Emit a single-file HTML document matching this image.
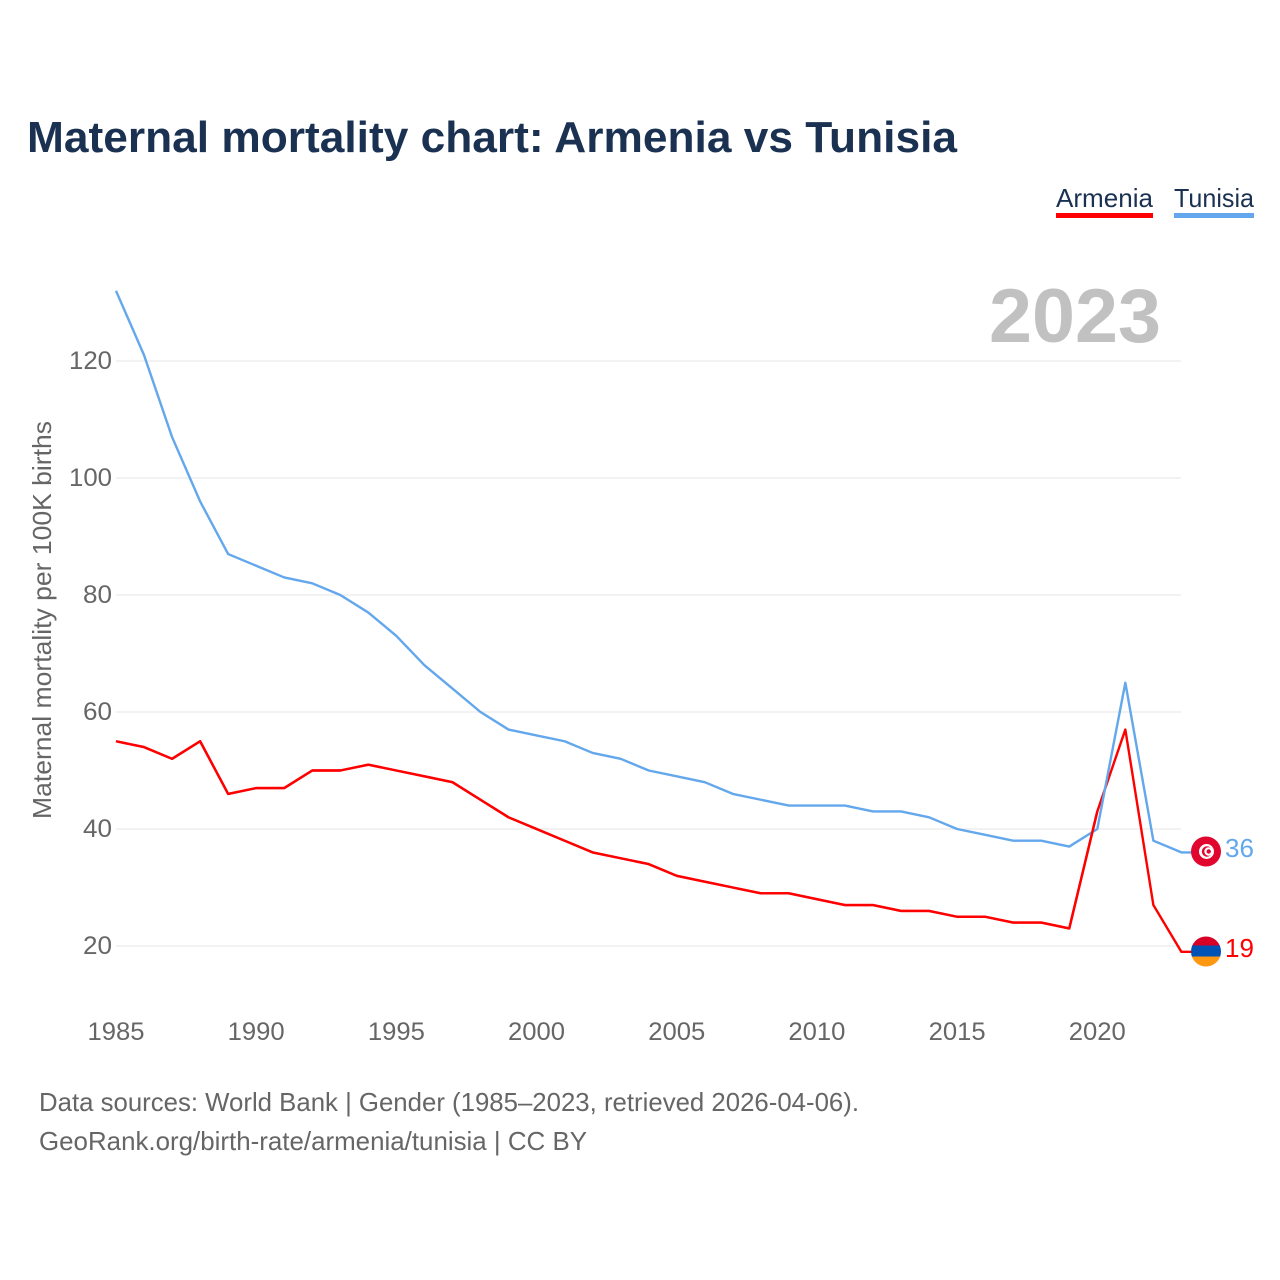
<!DOCTYPE html>
<html lang="en">
<head>
<meta charset="utf-8">
<title>Maternal mortality chart: Armenia vs Tunisia</title>
<style>
html,body{margin:0;padding:0;background:#fff;}
svg{display:block;}
text{font-family:"Liberation Sans",sans-serif;}
</style>
</head>
<body>
<svg id="chart" width="1280" height="1280" viewBox="0 0 1280 1280" xmlns="http://www.w3.org/2000/svg">
  <defs>
    <clipPath id="am-clip"><circle cx="1206" cy="951.5" r="15"></circle></clipPath>
  </defs>
  <text x="27" y="152" font-size="44" font-weight="700" fill="#1a3152" textLength="930" lengthAdjust="spacingAndGlyphs">Maternal mortality chart: Armenia vs Tunisia</text>

  <g>
    <text x="1056" y="207" font-size="26" fill="#1a3152" textLength="97" lengthAdjust="spacingAndGlyphs">Armenia</text>
    <rect x="1056" y="213" width="97" height="5" fill="#ff0000"></rect>
  </g>
  <g>
    <text x="1174" y="207" font-size="26" fill="#1a3152" textLength="80" lengthAdjust="spacingAndGlyphs">Tunisia</text>
    <rect x="1174" y="213" width="80" height="5" fill="#63a7ec"></rect>
  </g>

  <text x="1161" y="342" font-size="76" font-weight="700" fill="#c1c1c1" text-anchor="end" textLength="172" lengthAdjust="spacingAndGlyphs">2023</text>

  <g id="grid"></g>
  <g id="y-ticks"></g>
  <g id="x-ticks"></g>

  <text transform="translate(51,620) rotate(-90)" font-size="26" fill="#666666" text-anchor="middle" textLength="398" lengthAdjust="spacingAndGlyphs">Maternal mortality per 100K births</text>

  <path id="line-armenia" fill="none" stroke="#ff0000" stroke-width="2.4" stroke-linejoin="round"></path>
  <path id="line-tunisia" fill="none" stroke="#63a7ec" stroke-width="2.4" stroke-linejoin="round"></path>
  <path id="line-armenia-top" fill="none" stroke="#ff0000" stroke-width="2.4" stroke-linejoin="round"></path>

  <g id="flag-tunisia">
    <circle cx="1206" cy="851.5" r="15" fill="#e0062d"></circle>
    <circle cx="1206.5" cy="851.5" r="7.5" fill="#ffffff"></circle>
    <circle cx="1207" cy="851.5" r="5.2" fill="#e0062d"></circle>
    <circle cx="1208.5" cy="851.5" r="4.2" fill="#ffffff"></circle>
    <circle cx="1208.7" cy="851.5" r="2.2" fill="#e0062d"></circle>
  </g>
  <g id="flag-armenia" clip-path="url(#am-clip)">
    <rect x="1190" y="936" width="32" height="11" fill="#d80027"></rect>
    <rect x="1190" y="945.5" width="32" height="11.5" fill="#0052b4"></rect>
    <rect x="1190" y="956.5" width="32" height="11" fill="#ff9811"></rect>
  </g>

  <text id="value-tunisia" x="1225" y="857" font-size="26" fill="#63a7ec"></text>
  <text id="value-armenia" x="1225" y="957" font-size="26" fill="#ff0000"></text>

  <text x="39" y="1111" font-size="26" fill="#666666" textLength="820" lengthAdjust="spacingAndGlyphs">Data sources: World Bank | Gender (1985–2023, retrieved 2026-04-06).</text>
  <text x="39" y="1150" font-size="26" fill="#666666" textLength="548" lengthAdjust="spacingAndGlyphs">GeoRank.org/birth-rate/armenia/tunisia | CC BY</text>
</svg>
<script>
const years = [1985,1986,1987,1988,1989,1990,1991,1992,1993,1994,1995,1996,1997,1998,1999,2000,2001,2002,2003,2004,2005,2006,2007,2008,2009,2010,2011,2012,2013,2014,2015,2016,2017,2018,2019,2020,2021,2022,2023];
const armenia = [55,54,52,55,46,47,47,50,50,51,50,49,48,45,42,40,38,36,35,34,32,31,30,29,29,28,27,27,26,26,25,25,24,24,23,43,57,27,19];
const tunisia = [132,121,107,96,87,85,83,82,80,77,73,68,64,60,57,56,55,53,52,50,49,48,46,45,44,44,44,43,43,42,40,39,38,38,37,40,65,38,36];
const yTickValues = [20,40,60,80,100,120];
const xTickValues = [1985,1990,1995,2000,2005,2010,2015,2020];

const svgNS = 'http://www.w3.org/2000/svg';
function xScale(year) { return 116 + (year - 1985) * (1097.3 - 116) / 35; }
function yScale(v) { return 946 - (v - 20) * (946 - 361) / 100; }
function linePath(values) {
  return values.map(function (v, i) {
    return (i ? 'L' : 'M') + xScale(years[i]).toFixed(2) + ' ' + yScale(v).toFixed(2);
  }).join(' ');
}
function tailPath(values) {
  const last = values[values.length - 1];
  return linePath(values) + ' L1192 ' + yScale(last).toFixed(2);
}

const gridGroup = document.getElementById('grid');
const yGroup = document.getElementById('y-ticks');
yTickValues.forEach(function (v) {
  const line = document.createElementNS(svgNS, 'line');
  
  
  line.setAttribute('x1', 116);
  line.setAttribute('x2', 1181);
  line.setAttribute('y1', yScale(v));
  line.setAttribute('y2', yScale(v));
  line.setAttribute('stroke', '#e9e9e9');
  line.setAttribute('stroke-width', '1.2');
  gridGroup.appendChild(line);
  const label = document.createElementNS(svgNS, 'text');
  
  
  label.setAttribute('x', 112);
  label.setAttribute('y', yScale(v) + 8);
  label.setAttribute('font-size', '25');
  label.setAttribute('fill', '#666666');
  label.setAttribute('text-anchor', 'end');
  label.setAttribute('textLength', v >= 100 ? '43' : '29');
  label.setAttribute('lengthAdjust', 'spacingAndGlyphs');
  label.textContent = v;
  yGroup.appendChild(label);
});

const xGroup = document.getElementById('x-ticks');
xTickValues.forEach(function (year) {
  const label = document.createElementNS(svgNS, 'text');
  
  
  label.setAttribute('x', xScale(year));
  label.setAttribute('y', 1040);
  label.setAttribute('font-size', '25');
  label.setAttribute('fill', '#666666');
  label.setAttribute('text-anchor', 'middle');
  label.setAttribute('textLength', '57');
  label.setAttribute('lengthAdjust', 'spacingAndGlyphs');
  label.textContent = year;
  xGroup.appendChild(label);
});

document.getElementById('line-armenia').setAttribute('d', tailPath(armenia));
document.getElementById('line-tunisia').setAttribute('d', tailPath(tunisia));
document.getElementById('line-armenia-top').setAttribute('d', linePath(armenia.slice(0, 36)));
document.getElementById('value-armenia').textContent = armenia[armenia.length - 1];
document.getElementById('value-tunisia').textContent = tunisia[tunisia.length - 1];
</script>
</body>
</html>
